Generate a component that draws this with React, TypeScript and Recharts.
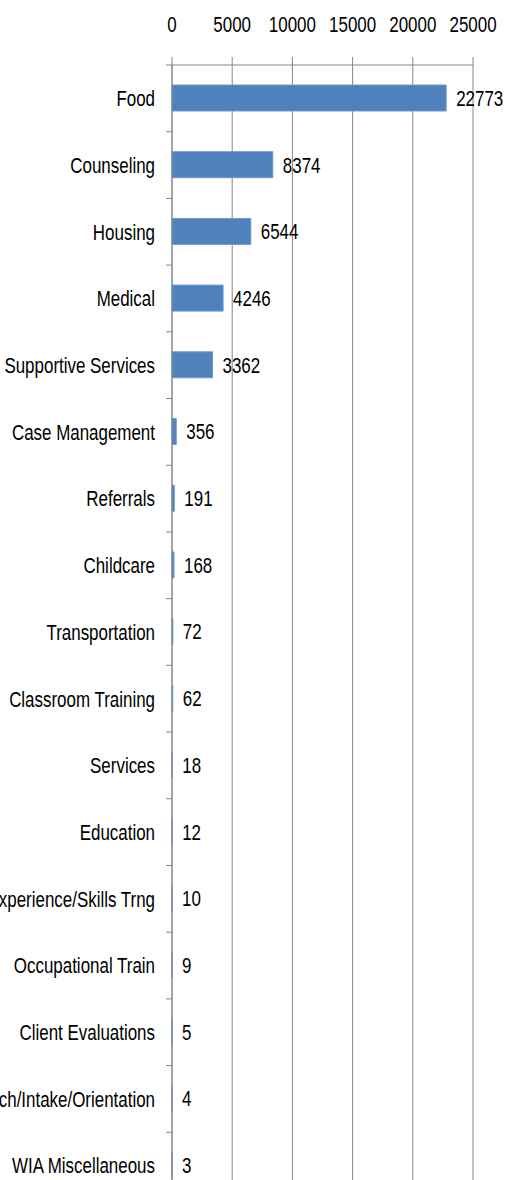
import { BarChart, Bar, XAxis, YAxis, CartesianGrid, LabelList } from "recharts";

const categories = [
  "Food",
  "Counseling",
  "Housing",
  "Medical",
  "Supportive Services",
  "Case Management",
  "Referrals",
  "Childcare",
  "Transportation",
  "Classroom Training",
  "Services",
  "Education",
  "Work Experience/Skills Trng",
  "Occupational Train",
  "Client Evaluations",
  "Outreach/Intake/Orientation",
  "WIA Miscellaneous",
];

const counts = [22773, 8374, 6544, 4246, 3362, 356, 191, 168, 72, 62, 18, 12, 10, 9, 5, 4, 3];

const xTicks = [0, 5000, 10000, 15000, 20000, 25000];

const data = categories.map((name, i) => ({ name, value: counts[i] }));

const FONT = "'Liberation Sans', Arial, sans-serif";
const FS = 22;
const SX = 0.77; // squeeze text horizontally, looks like the narrow font in the original
const W = 505;
const H = 1199;
const AXIS_W = 172;
const TOP = 65;
const BAND = (H - TOP) / categories.length;

function NarrowText({ x, y, anchor, baseline, children }: any) {
  return (
    <text
      transform={`translate(${x},${y}) scale(${SX},1)`}
      x={0}
      y={0}
      textAnchor={anchor}
      dominantBaseline={baseline}
      fontFamily={FONT}
      fontSize={FS}
      fill="#000"
    >
      {children}
    </text>
  );
}

// category label plus a small tick on the band boundary (Excel style)
function CategoryTick(props: any) {
  const { y, payload } = props;
  const edge = y - BAND / 2;
  return (
    <g>
      <line x1={AXIS_W - 6} x2={AXIS_W} y1={edge} y2={edge} stroke="#868686" />
      <NarrowText x={AXIS_W - 17} y={y} anchor="end" baseline="central">
        {payload.value}
      </NarrowText>
    </g>
  );
}

function ValueTick(props: any) {
  const { x, y, payload } = props;
  return (
    <NarrowText x={x} y={y} anchor="middle" baseline="auto">
      {payload.value}
    </NarrowText>
  );
}

function BarValue(props: any) {
  const { x, y, width, height, value } = props;
  return (
    <NarrowText x={x + width + 10} y={y + height / 2} anchor="start" baseline="central">
      {value}
    </NarrowText>
  );
}

export default function App() {
  return (
    <div style={{ position: "absolute", left: 0, top: 0, width: W, height: H, background: "#fff" }}>
      <BarChart
        width={W}
        height={H}
        data={data}
        layout="vertical"
        margin={{ top: 0, right: 32, bottom: 0, left: 0 }}
      >
        <CartesianGrid horizontal={false} stroke="#868686" />
        <XAxis
          type="number"
          orientation="top"
          domain={[0, 25000]}
          ticks={xTicks}
          height={TOP}
          tickSize={8}
          tickMargin={25}
          axisLine={{ stroke: "#868686" }}
          tickLine={{ stroke: "#868686" }}
          tick={<ValueTick />}
          interval={0}
        />
        <YAxis
          type="category"
          dataKey="name"
          width={AXIS_W}
          axisLine={{ stroke: "#868686" }}
          tickLine={false}
          tick={<CategoryTick />}
          interval={0}
        />
        <Bar dataKey="value" fill="#4F81BD" stroke="#6F9AD0" barSize={26} isAnimationActive={false}>
          <LabelList dataKey="value" content={<BarValue />} />
        </Bar>
      </BarChart>
    </div>
  );
}
